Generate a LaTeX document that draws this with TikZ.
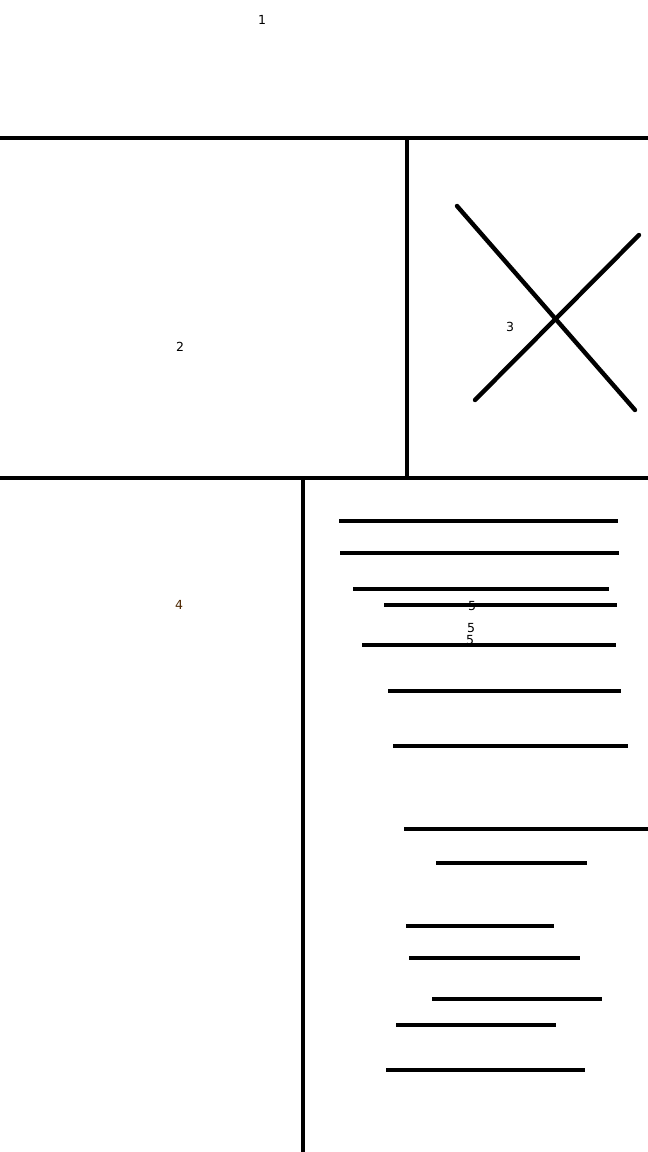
\documentclass[tikz,border=0pt]{standalone}
\usepackage{fontspec}
\setmainfont{DejaVu Sans}
\usepackage{xcolor}
\usepackage{tikz}
\definecolor{inkblack}{HTML}{000000}

\begin{document}
\begin{tikzpicture}[x=1pt,y=-1pt,line width=4.4pt,
    label/.style={font=\fontsize{12.5}{14}\selectfont,inner sep=0pt}]
    \useasboundingbox (0,0) rectangle (648,1152);
    % labels first, the strokes go over them
    \node[label] (one) at (262,20) {1};
    \node[label] (two) at (180,347) {2};
    \node[label] (three) at (510,327) {3};
    \node[label,text=black!70!orange] (four) at (179,605) {4};
    \node[label] (fiveA) at (472,606) {5};
    \node[label] (fiveB) at (471,628) {5};
    \node[label] (fiveC) at (470,640) {5};
    % frame lines
    \draw[inkblack] (0,138) -- (648,138);
    \draw[inkblack] (407,136) -- (407,478);
    \draw[inkblack] (0,478) -- (648,478);
    \draw[inkblack] (303,478) -- (303,1152);
    % cross
    \draw[inkblack,line cap=round] (457,206) -- (635,410);
    \draw[inkblack,line cap=round] (475,400) -- (639,235);
    % strokes
    \foreach \xa/\xb/\y in {339/618/521, 340/619/553, 353/609/589, 384/617/605,
        362/616/645, 388/621/691, 393/628/746, 404/648/829, 436/587/863,
        406/554/926, 409/580/958, 432/602/999, 396/556/1025, 386/585/1070}
      \draw[inkblack] (\xa,\y) -- (\xb,\y);
\end{tikzpicture}
\end{document}
